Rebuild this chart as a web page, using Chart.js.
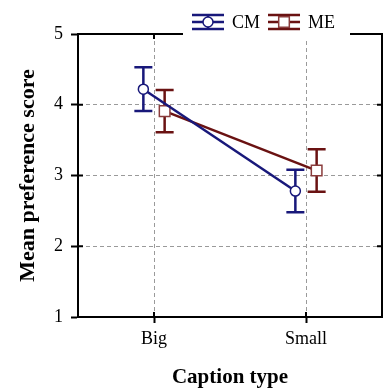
<!DOCTYPE html>
<html>
<head>
<meta charset="utf-8">
<script src="https://cdn.jsdelivr.net/npm/chart.js@4.4.1/dist/chart.umd.min.js"></script>
<style>
html, body { margin: 0; padding: 0; background: #fff; }
</style>
</head>
<body>
<canvas id="myChart" width="384" height="389"></canvas>
<script>
// data
var categories = ['Big', 'Small'];
var seriesNames = ['CM', 'ME'];
var cmMean = [4.22, 2.78];
var cmErr = [0.31, 0.30];
var meMean = [3.91, 3.07];
var meErr = [0.30, 0.30];
var yTicks = [1, 2, 3, 4, 5];

var cmColor = '#18187a';
var meColor = '#6a1212';
var serif = 'Liberation Serif, Times New Roman, serif';
var shift = 0.07; // horizontal dodge between the two groups

function points(means, dx) {
    return means.map(function (v, i) { return { x: i + 1 + dx, y: v }; });
}

var errorBars = {
    id: 'errorBars',
    beforeDatasetsDraw: function (chart) {
        var ctx = chart.ctx;
        var ys = chart.scales.y;
        chart.data.datasets.forEach(function (ds, i) {
            var meta = chart.getDatasetMeta(i);
            ctx.save();
            ctx.strokeStyle = ds.borderColor;
            ctx.lineWidth = 2.5;
            meta.data.forEach(function (pt, j) {
                var top = ys.getPixelForValue(ds.means[j] + ds.errs[j]);
                var bot = ys.getPixelForValue(ds.means[j] - ds.errs[j]);
                ctx.beginPath();
                ctx.moveTo(pt.x, top); ctx.lineTo(pt.x, bot);
                ctx.moveTo(pt.x - 9, top); ctx.lineTo(pt.x + 9, top);
                ctx.moveTo(pt.x - 9, bot); ctx.lineTo(pt.x + 9, bot);
                ctx.stroke();
            });
            ctx.restore();
        });
    }
};

var frame = {
    id: 'frame',
    afterDraw: function (chart) {
        var ctx = chart.ctx;
        var a = chart.chartArea;
        var xs = chart.scales.x, ys = chart.scales.y;
        ctx.save();
        ctx.strokeStyle = '#000';
        ctx.lineWidth = 2;
        ctx.beginPath();
        ctx.moveTo(a.left - 1, a.top); ctx.lineTo(a.right, a.top); ctx.lineTo(a.right, a.bottom + 1);
        // inner ticks
        xs.ticks.forEach(function (t) {
            var px = xs.getPixelForValue(t.value);
            ctx.moveTo(px, a.bottom); ctx.lineTo(px, a.bottom - 5);
            ctx.moveTo(px, a.top); ctx.lineTo(px, a.top + 5);
        });
        ys.ticks.forEach(function (t) {
            var py = ys.getPixelForValue(t.value);
            ctx.moveTo(a.left, py); ctx.lineTo(a.left + 5, py);
            ctx.moveTo(a.right, py); ctx.lineTo(a.right - 5, py);
        });
        ctx.stroke();

        // legend box sitting on the top border
        ctx.fillStyle = '#fff';
        ctx.fillRect(183, 0, 167, 40);
        var x = 192, cy = 22;
        chart.data.datasets.forEach(function (ds) {
            var cx = x + 16;
            ctx.strokeStyle = ds.borderColor;
            ctx.lineWidth = 2.5;
            ctx.beginPath();
            [-7, 0, 7].forEach(function (d) { ctx.moveTo(cx - 16, cy + d); ctx.lineTo(cx + 16, cy + d); });
            ctx.moveTo(cx, cy - 7); ctx.lineTo(cx, cy + 7);
            ctx.stroke();
            ctx.fillStyle = '#fff';
            ctx.strokeStyle = ds.pointBorderColor;
            ctx.lineWidth = ds.pointBorderWidth;
            Chart.helpers.drawPoint(ctx, { pointStyle: ds.pointStyle, radius: ds.pointRadius, borderWidth: ds.pointBorderWidth, rotation: 0 }, cx, cy);
            ctx.fillStyle = '#000';
            ctx.font = '18px ' + serif;
            ctx.textBaseline = 'middle';
            ctx.textAlign = 'left';
            ctx.fillText(ds.label, x + 40, cy + 1);
            x += 40 + ctx.measureText(ds.label).width + 8;
        });
        ctx.restore();
    }
};

var ctx = document.getElementById('myChart').getContext('2d');
var myChart = new Chart(ctx, {
    type: 'scatter',
    data: {
        datasets: [{
            label: seriesNames[0],
            data: points(cmMean, -shift),
            means: cmMean,
            errs: cmErr,
            showLine: true,
            borderColor: cmColor,
            borderWidth: 2.5,
            pointStyle: 'circle',
            pointRadius: 5,
            pointBackgroundColor: '#fff',
            pointBorderColor: cmColor,
            pointBorderWidth: 1.5
        }, {
            label: seriesNames[1],
            data: points(meMean, shift),
            means: meMean,
            errs: meErr,
            showLine: true,
            borderColor: meColor,
            borderWidth: 2.5,
            pointStyle: 'rect',
            pointRadius: 7.5,
            pointBackgroundColor: '#fff',
            pointBorderColor: '#8a3c3c',
            pointBorderWidth: 1.5
        }]
    },
    options: {
        responsive: false,
        animation: false,
        layout: {
            autoPadding: false,
            padding: { left: 0, right: 2, top: 34, bottom: 0 }
        },
        plugins: {
            legend: { display: false },
            tooltip: { enabled: false }
        },
        scales: {
            x: {
                type: 'linear',
                min: 0.5,
                max: 2.5,
                afterBuildTicks: function (s) {
                    s.ticks = categories.map(function (c, i) { return { value: i + 1 }; });
                },
                afterFit: function (s) { s.height = 72; },
                ticks: {
                    color: '#000',
                    padding: 5,
                    font: { family: serif, size: 18 },
                    callback: function (v) { return categories[v - 1]; }
                },
                grid: {
                    color: '#9a9a9a',
                    lineWidth: 1,
                    tickColor: '#000',
                    tickWidth: 2,
                    tickLength: 6,
                    tickBorderDash: []
                },
                border: { color: '#000', width: 2, dash: [4, 3] },
                title: {
                    display: true,
                    text: 'Caption type',
                    color: '#000',
                    font: { family: serif, size: 21, weight: 'bold', lineHeight: 1 },
                    padding: { top: 0, bottom: 1 }
                }
            },
            y: {
                min: 1,
                max: 5,
                afterBuildTicks: function (s) {
                    s.ticks = yTicks.map(function (v) { return { value: v }; });
                },
                afterFit: function (s) { s.width = 78; },
                ticks: {
                    color: '#000',
                    padding: 8,
                    font: { family: serif, size: 18 }
                },
                grid: {
                    color: function (c) {
                        return (c.tick && c.tick.value > 1 && c.tick.value < 5) ? '#9a9a9a' : 'rgba(0,0,0,0)';
                    },
                    lineWidth: 1,
                    tickColor: '#000',
                    tickWidth: 2,
                    tickLength: 7,
                    tickBorderDash: []
                },
                border: { color: '#000', width: 2, dash: [4, 3] },
                title: {
                    display: true,
                    text: 'Mean preference score',
                    color: '#000',
                    font: { family: serif, size: 22, weight: 'bold', lineHeight: 1 },
                    padding: { top: 17, bottom: 0 }
                }
            }
        }
    },
    plugins: [errorBars, frame]
});
</script>
</body>
</html>
